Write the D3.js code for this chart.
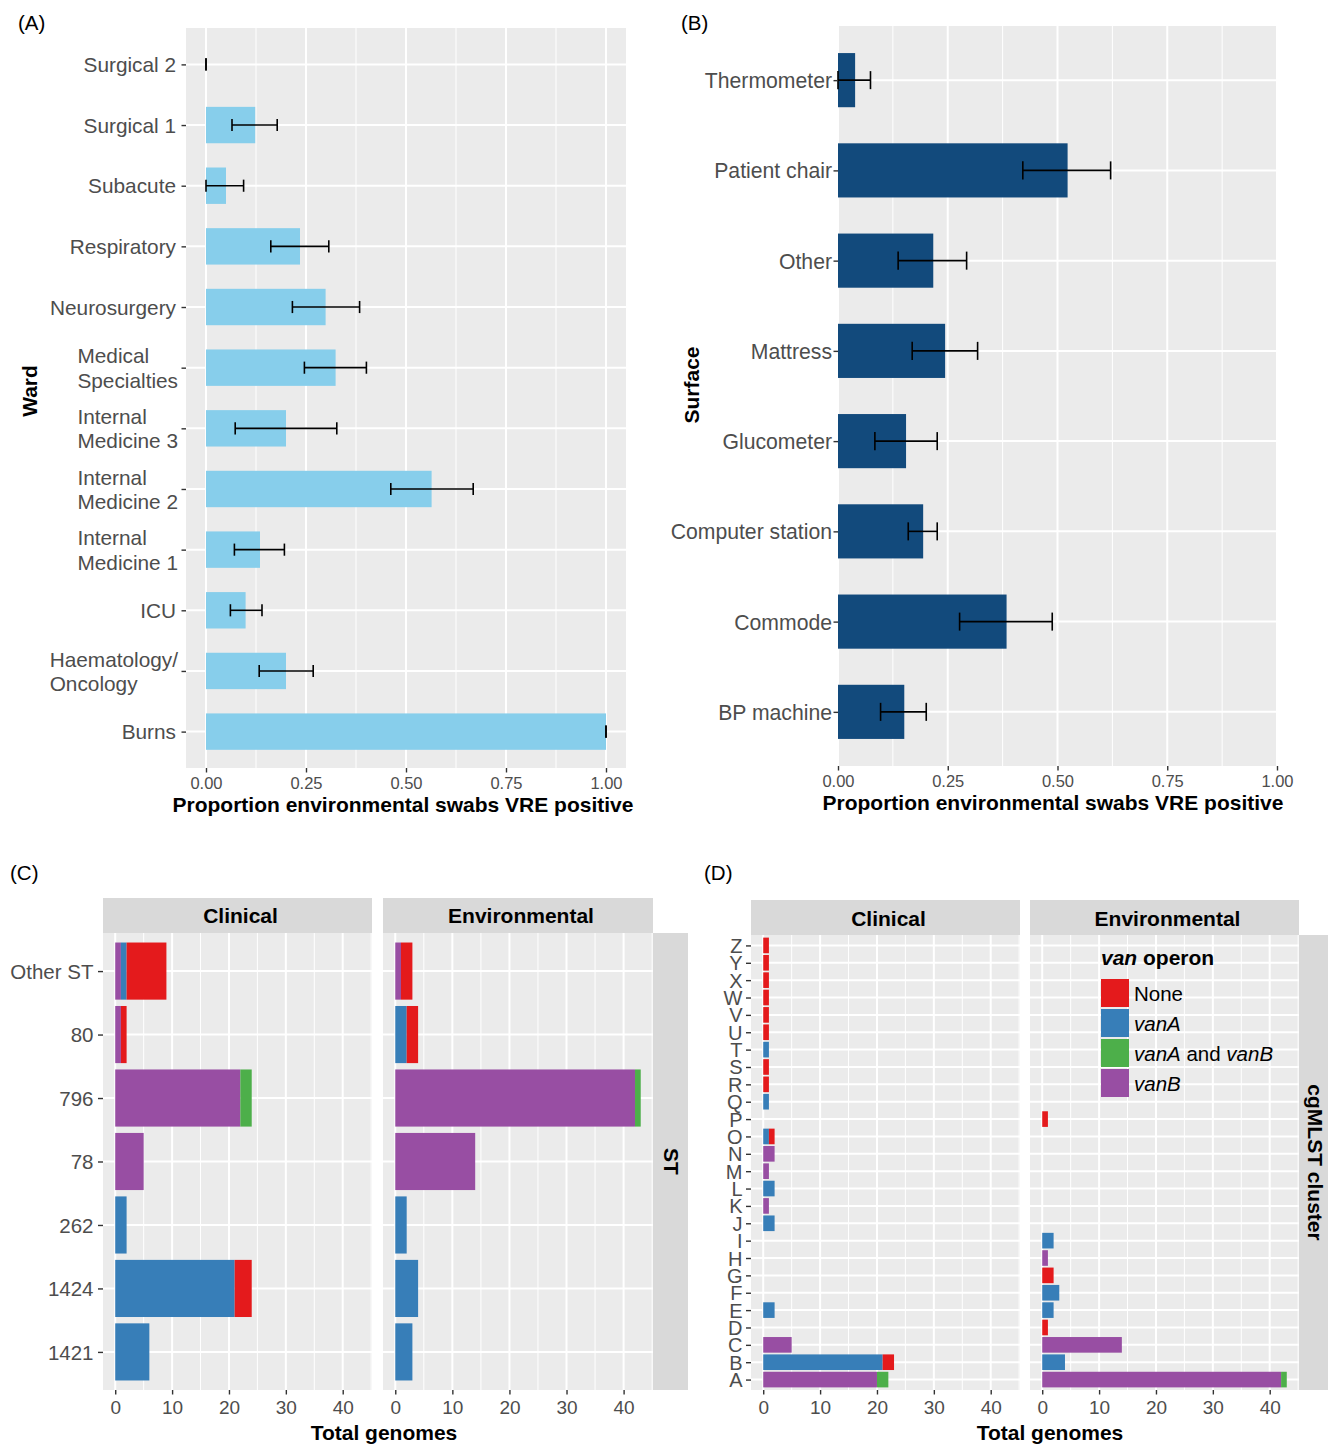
<!DOCTYPE html>
<html>
<head>
<meta charset="utf-8">
<script src="https://cdn.jsdelivr.net/npm/d3@7"></script>
<style>
  html, body { margin: 0; padding: 0; background: #fff; }
  svg text { font-family: "Liberation Sans", Arial, Helvetica, sans-serif; }
</style>
</head>
<body>
<svg id="fig" width="1328" height="1444"></svg>
<script>
// ---------- (A) proportion of positive swabs by ward ----------
const wards = ["Surgical 2", "Surgical 1", "Subacute", "Respiratory", "Neurosurgery",
  "Medical\nSpecialties", "Internal\nMedicine 3", "Internal\nMedicine 2",
  "Internal\nMedicine 1", "ICU", "Haematology/\nOncology", "Burns"];
const wardProp = [0, 0.123, 0.05, 0.235, 0.299, 0.324, 0.2, 0.564, 0.135, 0.099, 0.2, 1.0];
const wardLo   = [0, 0.065, 0.0, 0.162, 0.216, 0.246, 0.073, 0.462, 0.071, 0.061, 0.133, 1.0];
const wardHi   = [0, 0.178, 0.094, 0.307, 0.384, 0.401, 0.327, 0.668, 0.196, 0.14, 0.268, 1.0];

// ---------- (B) proportion of positive swabs by surface ----------
const surfaces = ["Thermometer", "Patient chair", "Other", "Mattress", "Glucometer",
  "Computer station", "Commode", "BP machine"];
const surfProp = [0.039, 0.523, 0.217, 0.244, 0.155, 0.194, 0.384, 0.151];
const surfLo   = [0.0, 0.421, 0.137, 0.169, 0.084, 0.160, 0.277, 0.097];
const surfHi   = [0.074, 0.621, 0.293, 0.318, 0.226, 0.226, 0.488, 0.201];

const propTicks = [0, 0.25, 0.5, 0.75, 1];
const propMinor = [0.125, 0.375, 0.625, 0.875];

// ---------- van operon categories ----------
const operons = ["None", "vanA", "vanA and vanB", "vanB"];
const operonColors = ["#E41A1C", "#377EB8", "#4DAF4A", "#984EA3"];
const sources = ["Clinical", "Environmental"];

// ---------- (C) genomes by sequence type ----------
const stTypes = ["Other ST", "80", "796", "78", "262", "1424", "1421"];
const stClinNone  = [7, 1, 0, 0, 0, 3, 0];
const stClinVanA  = [1, 0, 0, 0, 2, 21, 6];
const stClinVanAB = [0, 0, 2, 0, 0, 0, 0];
const stClinVanB  = [1, 1, 22, 5, 0, 0, 0];
const stEnvNone   = [2, 2, 0, 0, 0, 0, 0];
const stEnvVanA   = [0, 2, 0, 0, 2, 4, 3];
const stEnvVanAB  = [0, 0, 1, 0, 0, 0, 0];
const stEnvVanB   = [1, 0, 42, 14, 0, 0, 0];

// ---------- (D) genomes by cgMLST cluster (A..Z) ----------
const clusters = "ABCDEFGHIJKLMNOPQRSTUVWXYZ".split("");
//                  A  B  C  D  E  F  G  H  I  J  K  L  M  N  O  P  Q  R  S  T  U  V  W  X  Y  Z
const clClinNone  = [0, 2, 0, 0, 0, 0, 0, 0, 0, 0, 0, 0, 0, 0, 1, 0, 0, 1, 1, 0, 1, 1, 1, 1, 1, 1];
const clClinVanA  = [0,21, 0, 0, 2, 0, 0, 0, 0, 2, 0, 2, 0, 0, 1, 0, 1, 0, 0, 1, 0, 0, 0, 0, 0, 0];
const clClinVanAB = [2, 0, 0, 0, 0, 0, 0, 0, 0, 0, 0, 0, 0, 0, 0, 0, 0, 0, 0, 0, 0, 0, 0, 0, 0, 0];
const clClinVanB  = [20,0, 5, 0, 0, 0, 0, 0, 0, 0, 1, 0, 1, 2, 0, 0, 0, 0, 0, 0, 0, 0, 0, 0, 0, 0];
const clEnvNone   = [0, 0, 0, 1, 0, 0, 2, 0, 0, 0, 0, 0, 0, 0, 0, 1, 0, 0, 0, 0, 0, 0, 0, 0, 0, 0];
const clEnvVanA   = [0, 4, 0, 0, 2, 3, 0, 0, 2, 0, 0, 0, 0, 0, 0, 0, 0, 0, 0, 0, 0, 0, 0, 0, 0, 0];
const clEnvVanAB  = [1, 0, 0, 0, 0, 0, 0, 0, 0, 0, 0, 0, 0, 0, 0, 0, 0, 0, 0, 0, 0, 0, 0, 0, 0, 0];
const clEnvVanB   = [42,0,14, 0, 0, 0, 0, 1, 0, 0, 0, 0, 0, 0, 0, 0, 0, 0, 0, 0, 0, 0, 0, 0, 0, 0];

const countTicks = [0, 10, 20, 30, 40];
const countMinor = [5, 15, 25, 35, 45];

// ================= drawing =================
const svg = d3.select("#fig");
svg.append("rect").attr("width", 1328).attr("height", 1444).attr("fill", "#fff");

const PANEL_BG = "#EBEBEB", STRIP_BG = "#D9D9D9", AXIS_TXT = "#4D4D4D", TICK = "#333333";

function styleAxis(g, fontSize) {
  g.attr("font-family", null).attr("font-size", fontSize);
  g.select(".domain").remove();
  g.selectAll(".tick line").attr("stroke", TICK).attr("stroke-width", 1.4);
  g.selectAll(".tick text").attr("fill", AXIS_TXT);
}

function gridPanel(x, y, rect, majorX, minorX) {
  const g = svg.append("g");
  g.append("rect").attr("x", rect.l).attr("y", rect.t)
    .attr("width", rect.r - rect.l).attr("height", rect.b - rect.t).attr("fill", PANEL_BG);
  g.selectAll(".minx").data(minorX.filter(v => x(v) >= rect.l && x(v) <= rect.r)).join("line")
    .attr("x1", d => x(d)).attr("x2", d => x(d)).attr("y1", rect.t).attr("y2", rect.b)
    .attr("stroke", "#fff").attr("stroke-width", 1);
  g.selectAll(".majx").data(majorX).join("line")
    .attr("x1", d => x(d)).attr("x2", d => x(d)).attr("y1", rect.t).attr("y2", rect.b)
    .attr("stroke", "#fff").attr("stroke-width", 2);
  g.selectAll(".majy").data(y.domain()).join("line")
    .attr("x1", rect.l).attr("x2", rect.r).attr("y1", d => y(d)).attr("y2", d => y(d))
    .attr("stroke", "#fff").attr("stroke-width", 2);
  return g;
}

// horizontal proportion bars with confidence intervals
function proportionPanel(cfg) {
  const rect = cfg.rect;
  const x = d3.scaleLinear().domain(cfg.xDomain).range([rect.l, rect.r]);
  const y = d3.scalePoint().domain(cfg.cats).range([rect.t, rect.b]).padding(0.6);
  const step = y.step();
  gridPanel(x, y, rect, propTicks, propMinor);

  const rows = cfg.cats.map((c, i) => ({ c, v: cfg.vals[i], lo: cfg.lo[i], hi: cfg.hi[i] }));
  svg.append("g").selectAll("rect").data(rows).join("rect")
    .attr("x", x(0)).attr("y", d => y(d.c) - step * 0.3)
    .attr("width", d => Math.max(0, x(d.v) - x(0))).attr("height", step * 0.6)
    .attr("fill", cfg.color);

  const eb = svg.append("g").attr("stroke", "#000").attr("stroke-width", 1.6);
  rows.forEach(d => {
    const yy = y(d.c), h = step * 0.1;
    eb.append("line").attr("x1", x(d.lo)).attr("x2", x(d.hi)).attr("y1", yy).attr("y2", yy);
    eb.append("line").attr("x1", x(d.lo)).attr("x2", x(d.lo)).attr("y1", yy - h).attr("y2", yy + h);
    eb.append("line").attr("x1", x(d.hi)).attr("x2", x(d.hi)).attr("y1", yy - h).attr("y2", yy + h);
  });

  const gx = svg.append("g").attr("transform", `translate(0,${rect.b})`)
    .call(d3.axisBottom(x).tickValues(propTicks).tickFormat(d3.format(".2f")).tickSize(4.5).tickPadding(4.5));
  styleAxis(gx, cfg.xFont);

  const gy = svg.append("g").attr("transform", `translate(${rect.l},0)`)
    .call(d3.axisLeft(y).tickSize(4.5).tickPadding(cfg.yPad).tickFormat(() => ""));
  styleAxis(gy, cfg.yFont);
  // tick labels, multi-line ones left-aligned within their block
  gy.selectAll(".tick").each(function (d) {
    const t = d3.select(this).select("text");
    const lines = d.split("\n");
    const right = -(4.5 + cfg.yPad);
    if (lines.length === 1) {
      t.attr("x", right).attr("dy", "0.35em").text(d);
      return;
    }
    t.attr("dy", null).attr("text-anchor", "start");
    const spans = lines.map((ln, i) => t.append("tspan").text(ln)
      .attr("dy", i === 0 ? (0.35 * cfg.yFont - 12.15) : 24.3));
    const w = d3.max(spans, s => s.node().getComputedTextLength());
    spans.forEach(s => s.attr("x", right + 2 - w));
  });

  svg.append("text").attr("x", cfg.titleX).attr("y", rect.b + 44).attr("text-anchor", "middle")
    .attr("font-size", 21).attr("font-weight", "bold").text("Proportion environmental swabs VRE positive");
  svg.append("text").attr("transform", `translate(${cfg.yTitleX},${cfg.yTitleY}) rotate(-90)`)
    .attr("text-anchor", "middle").attr("font-size", 21).attr("font-weight", "bold").text(cfg.yTitle);
}

proportionPanel({
  rect: { l: 186, r: 626, t: 28, b: 768 }, xDomain: [-0.05, 1.05],
  cats: wards, vals: wardProp, lo: wardLo, hi: wardHi, color: "#87CEEB",
  xFont: 16.5, yFont: 20.8, yPad: 5.5, titleX: 403, yTitle: "Ward", yTitleX: 37, yTitleY: 391
});
proportionPanel({
  rect: { l: 838, r: 1277, t: 26, b: 766 }, xDomain: [0, 1],
  cats: surfaces, vals: surfProp, lo: surfLo, hi: surfHi, color: "#124A7C",
  xFont: 16.5, yFont: 21.2, yPad: 1.5, titleX: 1053, yTitle: "Surface", yTitleX: 699, yTitleY: 385
});

// stacked genome counts, faceted by source
function facetRow(cfg) {
  const keysLR = operons.slice().reverse(); // left-to-right stacking order
  const colorOf = d3.scaleOrdinal().domain(operons).range(operonColors);
  const y = d3.scalePoint().domain(cfg.order).range([cfg.t, cfg.b]).padding(0.6);
  const step = y.step();

  cfg.panels.forEach((p, pi) => {
    const rect = { l: p.l, r: p.r, t: cfg.t, b: cfg.b };
    const x = d3.scaleLinear().domain([-2.15, 45.15]).range([p.l, p.r]);
    gridPanel(x, y, rect, countTicks, countMinor);

    // strip
    svg.append("rect").attr("x", p.l).attr("y", cfg.stripT).attr("width", p.r - p.l)
      .attr("height", cfg.t - cfg.stripT).attr("fill", STRIP_BG);
    svg.append("text").attr("x", (p.l + p.r) / 2 + 3).attr("y", cfg.stripBase).attr("text-anchor", "middle")
      .attr("font-size", 21).attr("font-weight", "bold").text(sources[pi]);

    const rows = cfg.cats.map((c, i) => {
      const r = { cat: c };
      operons.forEach((o, k) => { r[o] = p.series[k][i]; });
      return r;
    });
    const stacked = d3.stack().keys(keysLR)(rows);
    svg.append("g").selectAll("g").data(stacked).join("g")
      .attr("fill", s => colorOf(s.key))
      .selectAll("rect").data(s => s.filter(v => v[1] > v[0])).join("rect")
      .attr("x", v => x(v[0])).attr("width", v => x(v[1]) - x(v[0]))
      .attr("y", v => y(v.data.cat) - step * 0.45).attr("height", step * 0.9);

    const gx = svg.append("g").attr("transform", `translate(0,${cfg.b})`)
      .call(d3.axisBottom(x).tickValues(countTicks).tickSize(4.5).tickPadding(6.5));
    styleAxis(gx, 19);

    if (pi === 0) {
      const gy = svg.append("g").attr("transform", `translate(${p.l},0)`)
        .call(d3.axisLeft(y).tickSize(5).tickPadding(cfg.yPad));
      styleAxis(gy, cfg.yFont);
      gy.selectAll(".tick text").attr("dy", "0.35em");
    }
  });

  // right-hand strip
  const last = cfg.panels[cfg.panels.length - 1];
  svg.append("rect").attr("x", last.r).attr("y", cfg.t).attr("width", 35)
    .attr("height", cfg.b - cfg.t).attr("fill", STRIP_BG);
  svg.append("text").attr("transform", `translate(${cfg.sideX},${(cfg.t + cfg.b) / 2}) rotate(90)`)
    .attr("text-anchor", "middle").attr("font-size", 21).attr("font-weight", "bold").text(cfg.sideTitle);

  svg.append("text").attr("x", cfg.titleX).attr("y", 1440).attr("text-anchor", "middle")
    .attr("font-size", 21).attr("font-weight", "bold").text("Total genomes");
  return { y };
}

facetRow({
  cats: stTypes, order: stTypes, t: 933, b: 1390, stripT: 898, stripBase: 923, yPad: 4.5, yFont: 20.5,
  panels: [
    { l: 103, r: 372, series: [stClinNone, stClinVanA, stClinVanAB, stClinVanB] },
    { l: 383, r: 653, series: [stEnvNone, stEnvVanA, stEnvVanAB, stEnvVanB] }
  ],
  sideX: 664, sideTitle: "ST", titleX: 384
});

facetRow({
  cats: clusters, order: clusters.slice().reverse(), t: 935, b: 1390, stripT: 900, stripBase: 926,
  yPad: 3.5, yFont: 20,
  panels: [
    { l: 751, r: 1020, series: [clClinNone, clClinVanA, clClinVanAB, clClinVanB] },
    { l: 1030, r: 1299, series: [clEnvNone, clEnvVanA, clEnvVanAB, clEnvVanB] }
  ],
  sideX: 1308, sideTitle: "cgMLST cluster", titleX: 1050
});

// legend for the van operon fill
const leg = svg.append("g").attr("transform", "translate(1101,979)");
const legTitle = leg.append("text").attr("x", 0).attr("y", -14).attr("font-size", 21).attr("font-weight", "bold");
legTitle.append("tspan").attr("font-style", "italic").text("van");
legTitle.append("tspan").text(" operon");
operons.forEach((o, i) => {
  leg.append("rect").attr("x", 0).attr("y", i * 30).attr("width", 28).attr("height", 28)
    .attr("fill", operonColors[i]);
  const t = leg.append("text").attr("x", 33).attr("y", i * 30 + 22).attr("font-size", 20.5).attr("fill", "#000");
  o.split(/(van[AB])/).filter(s => s.length).forEach(part => {
    t.append("tspan").attr("font-style", /^van[AB]$/.test(part) ? "italic" : "normal").text(part);
  });
});

// panel tags
[["(A)", 18, 30], ["(B)", 681, 30], ["(C)", 10, 880], ["(D)", 704, 880]].forEach(([s, x, y]) => {
  svg.append("text").attr("x", x).attr("y", y).attr("font-size", 20.5).attr("fill", "#000").text(s);
});
</script>
</body>
</html>
